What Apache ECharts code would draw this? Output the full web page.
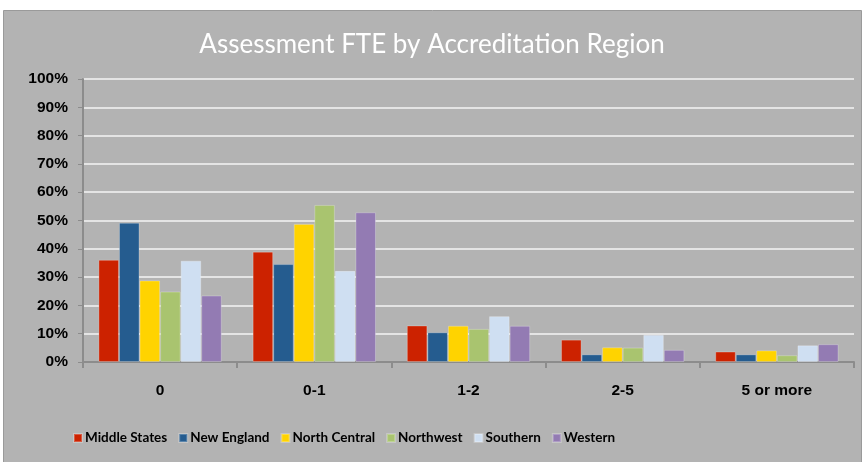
<!DOCTYPE html>
<html>
<head>
<meta charset="utf-8">
<script src="https://cdn.jsdelivr.net/npm/echarts@6/dist/echarts.min.js"></script>
<style>
html,body{margin:0;padding:0;background:#fff;}
#chart{width:864px;height:462px;}
</style>
</head>
<body>
<div id="chart"></div>
<script>
// 类目 / x轴
var categories = ['0', '0-1', '1-2', '2-5', '5 or more'];
// 各认证地区数据 (%)
var middleStates = [36.1, 39.0, 12.9, 7.9, 3.7];
var newEngland   = [49.2, 34.6, 10.5, 2.7, 2.7];
var northCentral = [28.8, 48.8, 12.8, 5.2, 4.1];
var northwest    = [24.9, 55.5, 11.7, 5.1, 2.4];
var southern     = [35.8, 32.2, 16.2, 9.6, 5.9];
var western      = [23.5, 52.9, 12.8, 4.3, 6.3];
var seriesNames = ['Middle States', 'New England', 'North Central', 'Northwest', 'Southern', 'Western'];
var seriesData = [middleStates, newEngland, northCentral, northwest, southern, western];
var colors = ['#cc2200', '#255c8f', '#ffd300', '#a9c46f', '#cfdff2', '#937bb3'];

var chart = echarts.init(document.getElementById('chart'));

var option = {
    backgroundColor: '#ffffff',
    color: colors,
    animation: false,
    graphic: [{
        type: 'rect',
        z: -10,
        silent: true,
        shape: {x: 3.5, y: 10.5, width: 858, height: 460},
        style: {fill: '#b3b3b3', stroke: '#9a9a9a', lineWidth: 1}
    }],
    title: {
        text: 'Assessment FTE by Accreditation Region',
        left: 'center',
        top: 27,
        textStyle: {
            color: '#ffffff',
            fontFamily: 'Lato',
            fontWeight: 'normal',
            fontSize: 26
        }
    },
    legend: {
        left: 73,
        top: 431,
        padding: 0,
        itemWidth: 8,
        itemHeight: 8,
        itemGap: 11,
        icon: 'rect',
        textStyle: {
            color: '#000',
            fontFamily: 'Lato',
            fontWeight: 'bold',
            fontSize: 13.5,
            padding: [2, 0, 0, -2]
        },
        data: seriesNames
    },
    grid: {
        left: 83,
        right: 10,
        top: 79,
        bottom: 100
    },
    xAxis: {
        type: 'category',
        data: categories,
        axisLine: {lineStyle: {color: '#8c8c8c', width: 2}},
        axisTick: {show: true, length: 6, lineStyle: {color: '#8c8c8c', width: 2}},
        axisLabel: {
            color: '#000',
            fontFamily: 'Liberation Sans',
            fontWeight: 'bold',
            fontSize: 15.5,
            margin: 21
        }
    },
    yAxis: {
        type: 'value',
        min: 0,
        max: 100,
        interval: 10,
        axisLine: {show: true, lineStyle: {color: '#8c8c8c', width: 2}},
        axisTick: {show: true, length: 5, lineStyle: {color: '#8c8c8c', width: 1}},
        axisLabel: {
            formatter: '{value}%',
            color: '#000',
            fontFamily: 'Liberation Sans',
            fontWeight: 'bold',
            fontSize: 15.5,
            margin: 15
        },
        splitLine: {lineStyle: {color: '#e4e4e4', width: 2}}
    },
    series: seriesNames.map(function (name, i) {
        return {
            name: name,
            type: 'bar',
            data: seriesData[i],
            barGap: '0%',
            barCategoryGap: '20%',
            itemStyle: {borderColor: 'rgba(255,255,255,0.25)', borderWidth: 1}
        };
    })
};

chart.setOption(option);
</script>
</body>
</html>
